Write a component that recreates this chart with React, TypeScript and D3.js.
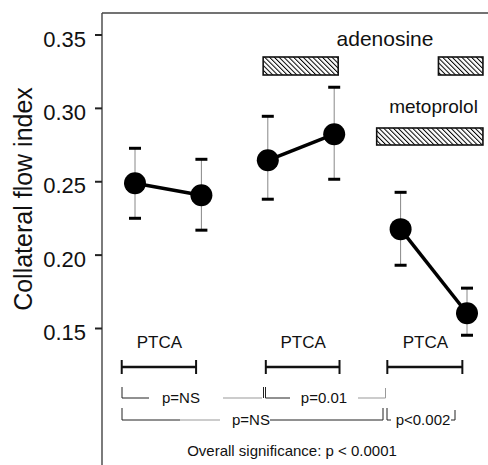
import React from 'react';
import { scaleLinear, line } from 'd3';

// collateral flow index, mean with error bars, for 3 PTCA sessions (before / after)
const timepoints = ['PTCA1 start', 'PTCA1 end', 'PTCA2 start', 'PTCA2 end', 'PTCA3 start', 'PTCA3 end'];
const means = [0.249, 0.2408, 0.2646, 0.2824, 0.2177, 0.1604];
const upper = [0.2728, 0.2653, 0.2946, 0.3144, 0.2428, 0.1775];
const lower = [0.2251, 0.217, 0.2381, 0.2517, 0.1931, 0.1454];
const pairs = [[0, 1], [2, 3], [4, 5]];
const yTicks = [0.15, 0.2, 0.25, 0.3, 0.35];

// occlusion ranges and drug bars, in timepoint units
const ptcaRanges = [[-0.2, 0.92], [1.97, 3.08], [3.8, 4.93]];
const ptcaLabels = ['PTCA', 'PTCA', 'PTCA'];
const adenosineBars = [[1.93, 3.06], [4.57, 5.24]];
const metoprololBars = [[3.64, 5.24]];

const width = 488;
const height = 465;
const font = '"Liberation Sans", Arial, Helvetica, sans-serif';

const App = () => {
  const x = scaleLinear().domain([0, timepoints.length - 1]).range([135, 467]);
  const y = scaleLinear().domain([0.15, 0.35]).range([328.5, 35]);

  const axisX = 102;
  const frameTop = 13;
  const pairLine = line<number>()
    .x(i => x(i))
    .y(i => y(means[i]));

  const hatchRect = (r: number[], top: number, h: number, key: string) => (
    <rect
      key={key}
      x={x(r[0])}
      y={top}
      width={x(r[1]) - x(r[0])}
      height={h}
      fill="url(#hatch)"
      stroke="#111"
      strokeWidth={1.6}
    />
  );

  const dark = '#222';
  const light = '#999';

  return (
    <svg
      width={width}
      height={height}
      style={{ position: 'absolute', left: 0, top: 0, background: '#fff' }}
      fontFamily={font}
    >
      <defs>
        <pattern id="hatch" width={3.4} height={3.4} patternUnits="userSpaceOnUse" patternTransform="rotate(-45)">
          <rect width={3.4} height={3.4} fill="#fff" />
          <line x1={0.5} y1={0} x2={0.5} y2={3.4} stroke="#000" strokeWidth={1} />
        </pattern>
      </defs>

      {/* frame */}
      <line x1={axisX} y1={frameTop} x2={width} y2={frameTop} stroke="#444" strokeWidth={1.4} />
      <line x1={axisX} y1={frameTop} x2={axisX} y2={height} stroke="#444" strokeWidth={1.4} />

      {/* y axis */}
      {yTicks.map(t => (
        <g key={t}>
          <line x1={95} x2={axisX} y1={y(t)} y2={y(t)} stroke="#222" strokeWidth={2} />
          <text x={86} y={y(t) + 11.5} textAnchor="end" fontSize={22} fill="#111">
            {t.toFixed(2)}
          </text>
        </g>
      ))}
      <text
        transform={`translate(32, 199) rotate(-90)`}
        textAnchor="middle"
        fontSize={25}
        fill="#111"
      >
        Collateral flow index
      </text>

      {/* drug bars */}
      <text x={385} y={46} textAnchor="middle" fontSize={21} fill="#111">adenosine</text>
      {adenosineBars.map((r, i) => hatchRect(r, 57, 18, 'a' + i))}
      <text x={433.5} y={113} textAnchor="middle" fontSize={19} fill="#111">metoprolol</text>
      {metoprololBars.map((r, i) => hatchRect(r, 128, 17, 'm' + i))}

      {/* error bars */}
      {timepoints.map((_, i) => (
        <g key={'e' + i}>
          <line x1={x(i)} x2={x(i)} y1={y(upper[i])} y2={y(lower[i])} stroke="#888" strokeWidth={1} />
          <line x1={x(i) - 6} x2={x(i) + 6} y1={y(upper[i])} y2={y(upper[i])} stroke="#000" strokeWidth={3} />
          <line x1={x(i) - 6} x2={x(i) + 6} y1={y(lower[i])} y2={y(lower[i])} stroke="#000" strokeWidth={3} />
        </g>
      ))}

      {/* connecting lines */}
      {pairs.map((p, i) => (
        <path key={'l' + i} d={pairLine(p) || ''} stroke="#000" strokeWidth={3.5} fill="none" />
      ))}

      {/* points */}
      {means.map((m, i) => (
        <circle key={'c' + i} cx={x(i)} cy={y(m)} r={11} fill="#000" />
      ))}

      {/* PTCA ranges */}
      {ptcaRanges.map((r, i) => (
        <g key={'p' + i}>
          <text x={(x(r[0]) + x(r[1])) / 2 + 0.5} y={348} textAnchor="middle" fontSize={17} fill="#111">
            {ptcaLabels[i]}
          </text>
          <line x1={x(r[0])} x2={x(r[1])} y1={367} y2={367} stroke="#111" strokeWidth={2.5} />
          <line x1={x(r[0])} x2={x(r[0])} y1={360} y2={374} stroke="#111" strokeWidth={2} />
          <line x1={x(r[1])} x2={x(r[1])} y1={360} y2={374} stroke="#111" strokeWidth={2} />
        </g>
      ))}

      {/* significance brackets */}
      <g fill="none" strokeWidth={1}>
        <path d="M122,387V398H149" stroke={dark} />
        <path d="M223,398H262" stroke={light} />
        <path d="M263.5,387V398M265.5,387V398H290" stroke={dark} />
        <path d="M358,398H385.5V388" stroke={light} />

        <path d="M122,408V420H180" stroke={dark} />
        <path d="M180,420H220" stroke={light} />
        <path d="M270,420H383V408" stroke={dark} />
        <path d="M387,408V420H391" stroke={dark} />
        <path d="M451,420H455V410" stroke={dark} />
      </g>
      <g fontSize={15} fill="#111" textAnchor="middle">
        <text x={181} y={403}>p=NS</text>
        <text x={324} y={403}>p=0.01</text>
        <text x={251} y={425}>p=NS</text>
        <text x={423} y={425}>p&lt;0.002</text>
        <text x={292} y={456}>Overall significance: p &lt; 0.0001</text>
      </g>
    </svg>
  );
};

export default App;
